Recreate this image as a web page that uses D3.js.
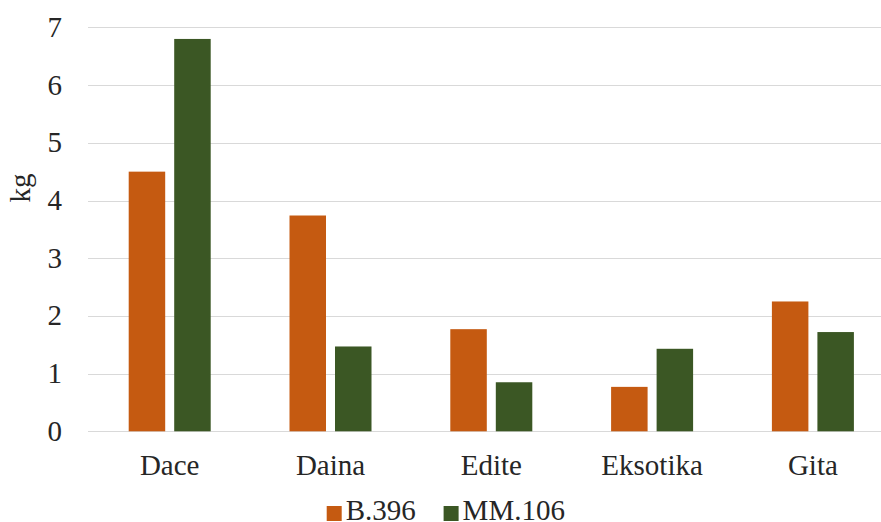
<!DOCTYPE html>
<html>
<head>
<meta charset="utf-8">
<script src="https://cdn.jsdelivr.net/npm/d3@7"></script>
<style>
  html, body { margin: 0; padding: 0; background: #fff; }
  svg { display: block; }
</style>
</head>
<body>
<svg id="chart" width="881" height="522"></svg>
<script>
// Yield per tree by cultivar and rootstock
const categories = ["Dace", "Daina", "Edite", "Eksotika", "Gita"];
const seriesNames = ["B.396", "MM.106"];
const b396 = [4.5, 3.74, 1.77, 0.77, 2.25];
const mm106 = [6.8, 1.47, 0.85, 1.43, 1.72];
const yTicks = [0, 1, 2, 3, 4, 5, 6, 7];
const colors = ["#C55A11", "#3B5724"];

const seriesValues = [b396, mm106];

const svg = d3.select("#chart");
const W = 881, H = 522;
const fontSize = 29;
const fontFamily = "'Liberation Serif'";
const textColor = "#262626";

const y = d3.scaleLinear().domain([0, 7]).range([431.3, 27.4]);
const x0 = d3.scaleBand().domain(categories).range([89.3, 893.3]).paddingInner(0).paddingOuter(0);
const groupWidth = 82;
const x1 = d3.scaleBand().domain(seriesNames).range([0, groupWidth]).paddingInner(0.198).paddingOuter(0);

function styleText(sel) {
  return sel.style("font-family", fontFamily)
    .style("font-size", fontSize + "px")
    .style("fill", textColor);
}

// gridlines
svg.append("g")
  .selectAll("line")
  .data(yTicks)
  .join("line")
  .attr("x1", 88)
  .attr("x2", W)
  .attr("y1", d => Math.round(y(d)) + 0.5)
  .attr("y2", d => Math.round(y(d)) + 0.5)
  .attr("stroke", "#d9d9d9")
  .attr("stroke-width", 1);

// y tick labels
svg.append("g")
  .selectAll("text")
  .data(yTicks)
  .join("text")
  .attr("x", 62)
  .attr("y", d => y(d) + 9.5)
  .attr("text-anchor", "end")
  .call(styleText)
  .text(d => d);

// y axis title
svg.append("text")
  .attr("transform", "translate(30,188) rotate(-90)")
  .attr("text-anchor", "middle")
  .call(styleText)
  .text("kg");

// bars
const groups = svg.append("g")
  .selectAll("g")
  .data(categories)
  .join("g")
  .attr("transform", d => `translate(${x0(d) + x0.bandwidth() / 2 - groupWidth / 2},0)`);

groups.selectAll("rect")
  .data((d, i) => seriesNames.map((s, j) => ({ s, j, v: seriesValues[j][i] })))
  .join("rect")
  .attr("x", d => x1(d.s))
  .attr("width", x1.bandwidth())
  .attr("y", d => y(d.v))
  .attr("height", d => y(0) - y(d.v))
  .attr("fill", d => colors[d.j]);

// category labels
svg.append("g")
  .selectAll("text")
  .data(categories)
  .join("text")
  .attr("x", d => x0(d) + x0.bandwidth() / 2)
  .attr("y", 475)
  .attr("text-anchor", "middle")
  .call(styleText)
  .text(d => d);

// legend
const legendX = [326.7, 443.6];
const legend = svg.append("g")
  .selectAll("g")
  .data(seriesNames)
  .join("g")
  .attr("transform", (d, i) => `translate(${legendX[i]},0)`);

legend.append("rect")
  .attr("x", 0)
  .attr("y", 506)
  .attr("width", 15)
  .attr("height", 15)
  .attr("fill", (d, i) => colors[i]);

legend.append("text")
  .attr("x", 19)
  .attr("y", 520)
  .call(styleText)
  .text(d => d);
</script>
</body>
</html>
